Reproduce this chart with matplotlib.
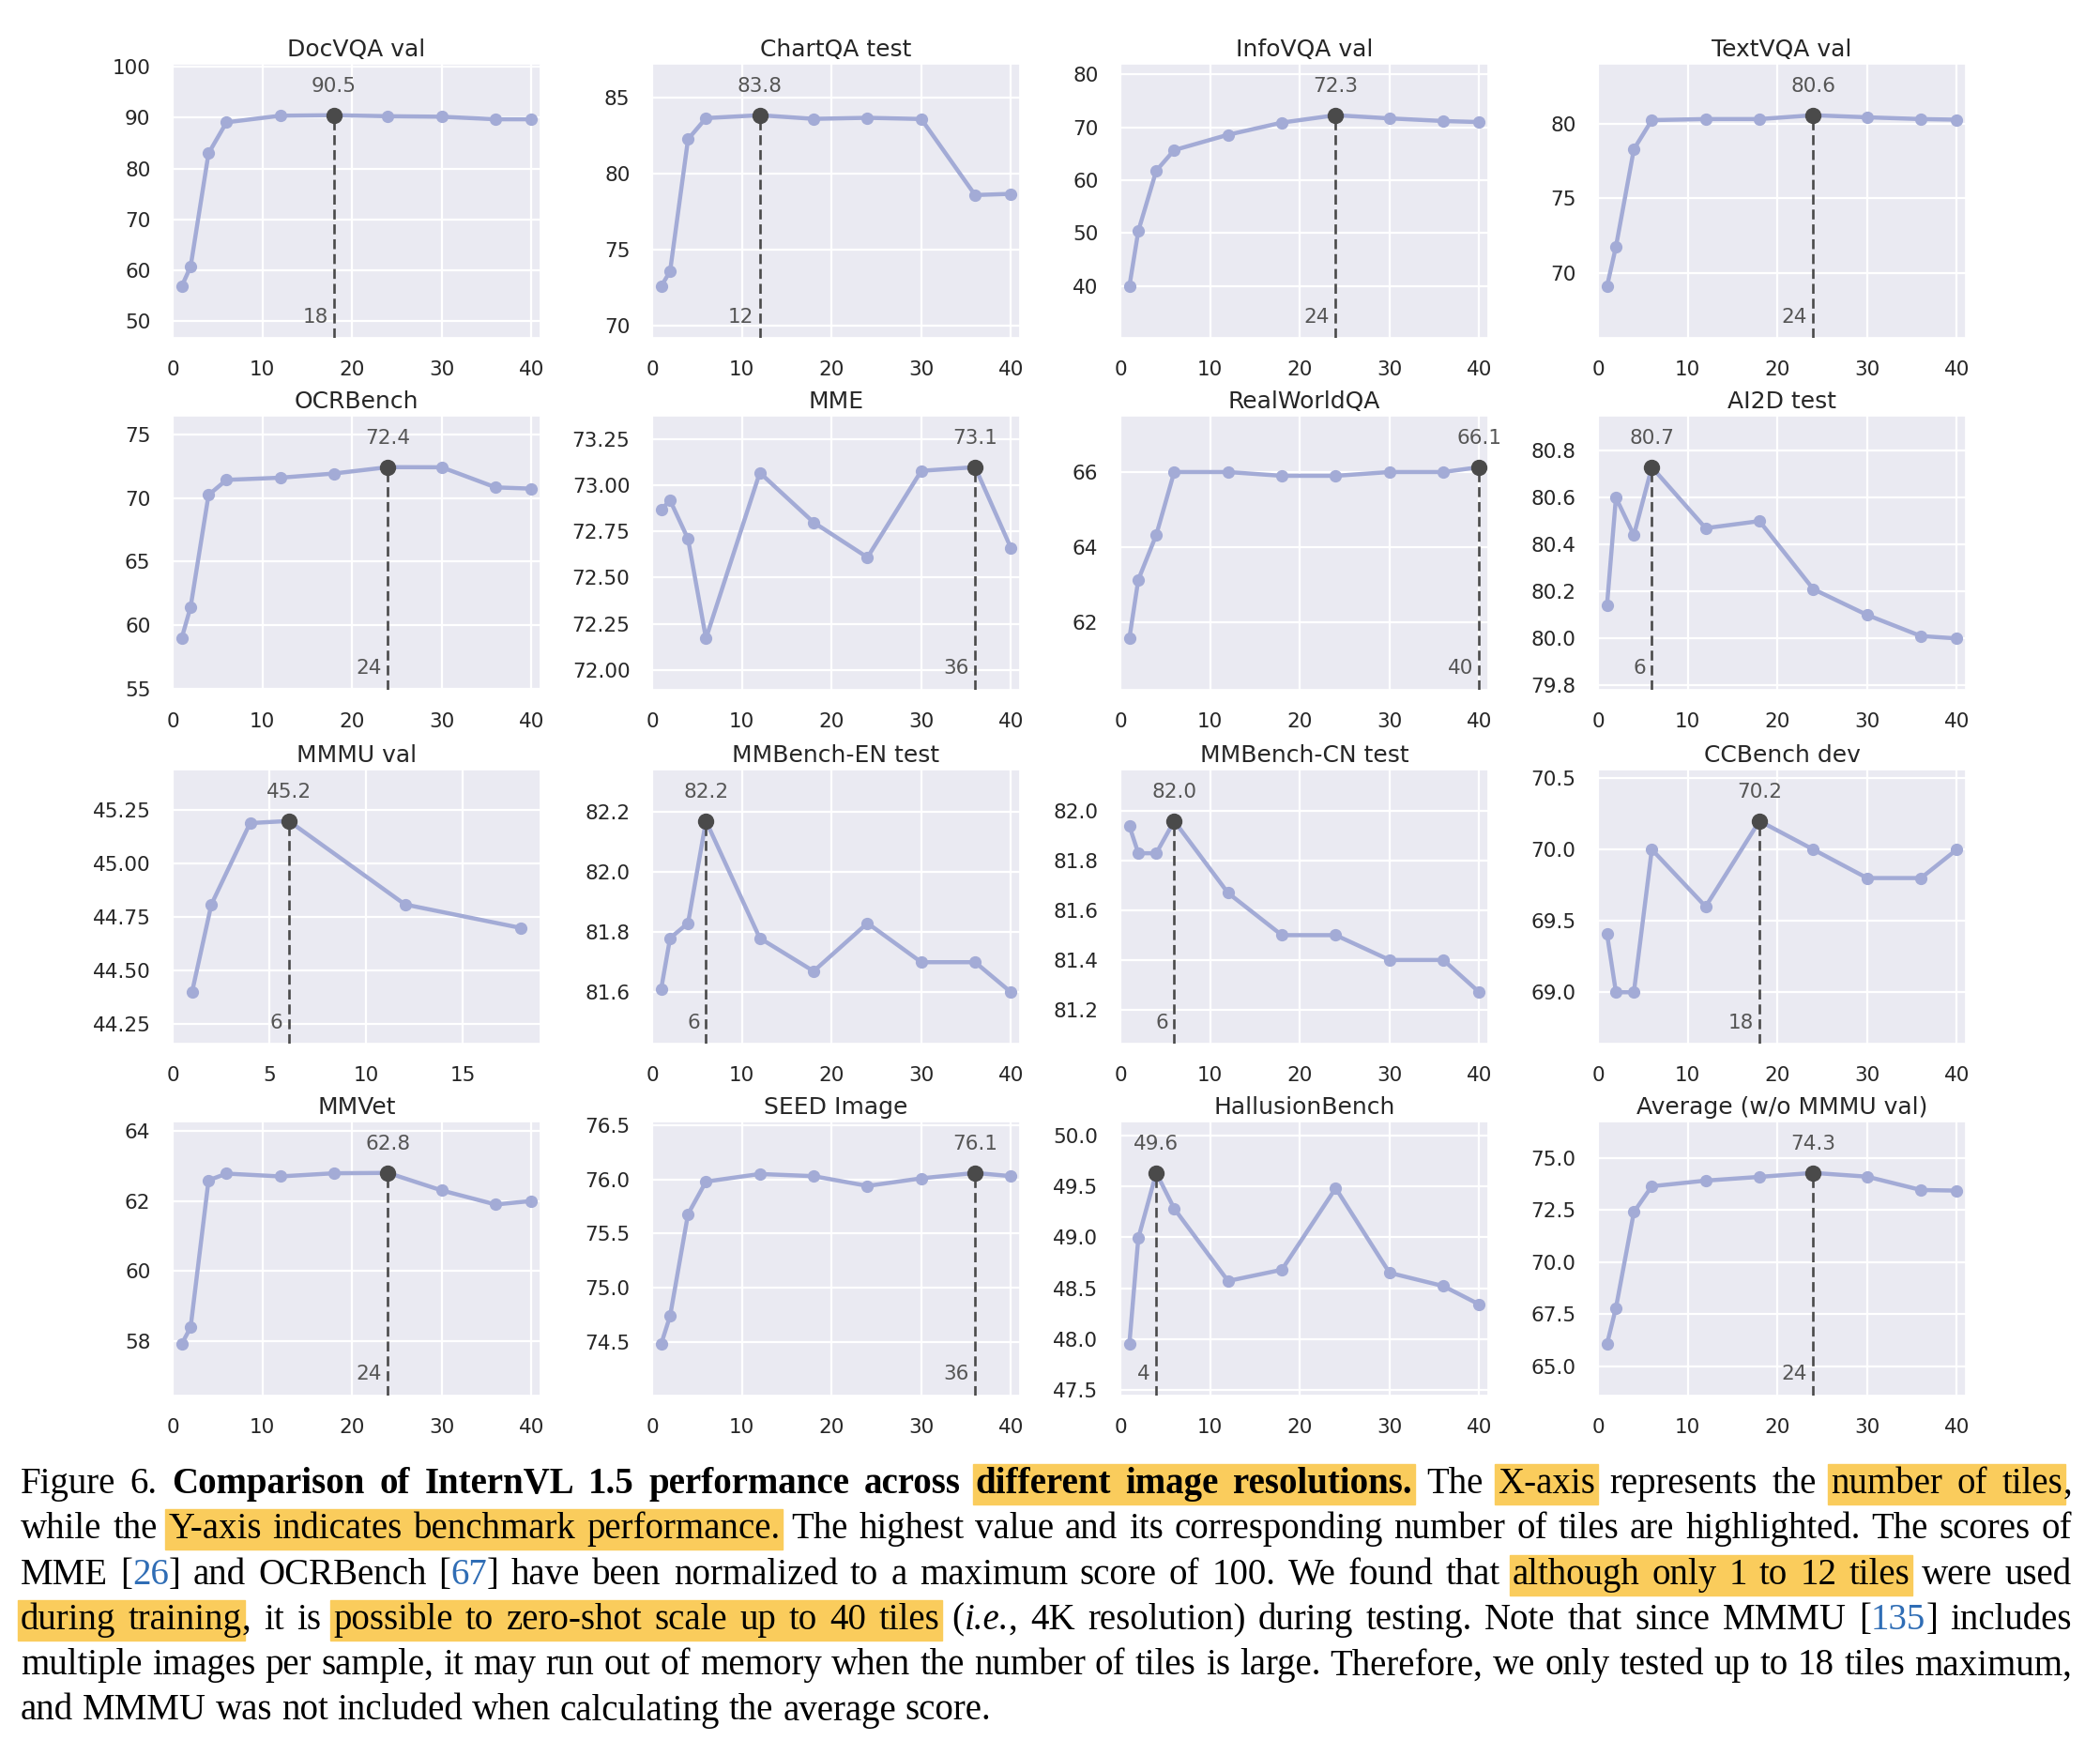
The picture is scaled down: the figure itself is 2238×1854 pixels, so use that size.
import matplotlib
matplotlib.use("Agg")
import matplotlib.pyplot as plt
import seaborn as sns
from matplotlib.patches import Rectangle

# number of tiles on the x axis
tiles = [1, 2, 4, 6, 12, 18, 24, 30, 36, 40]
mmmu_tiles = [1, 2, 4, 6, 12, 18]

docvqa = [56.8, 60.7, 83.0, 89.1, 90.4, 90.5, 90.3, 90.2, 89.7, 89.7]
chartqa = [72.6, 73.6, 82.26, 83.65, 83.84, 83.6, 83.67, 83.59, 78.6, 78.68]
infovqa = [39.9, 50.4, 61.8, 65.7, 68.6, 70.9, 72.3, 71.7, 71.2, 71.0]
textvqa = [69.1, 71.76, 78.3, 80.25, 80.32, 80.32, 80.58, 80.44, 80.32, 80.28]
ocrbench = [58.97, 61.44, 70.24, 71.43, 71.6, 71.93, 72.43, 72.42, 70.84, 70.74]
mme = [72.868, 72.92, 72.71, 72.17, 73.07, 72.80, 72.61, 73.08, 73.10, 72.66]
realworldqa = [61.58, 63.14, 64.33, 66.0, 66.0, 65.9, 65.9, 66.0, 66.0, 66.13]
ai2d = [80.14, 80.60, 80.44, 80.73, 80.47, 80.50, 80.21, 80.10, 80.01, 80.00]
mmmu = [44.40, 44.81, 45.19, 45.20, 44.81, 44.70]
mmbench_en = [81.61, 81.78, 81.83, 82.17, 81.78, 81.67, 81.83, 81.70, 81.70, 81.60]
mmbench_cn = [81.94, 81.83, 81.83, 81.96, 81.67, 81.50, 81.50, 81.40, 81.40, 81.27]
ccbench = [69.41, 69.0, 69.0, 70.0, 69.6, 70.2, 70.0, 69.8, 69.8, 70.0]
mmvet = [57.92, 58.4, 62.59, 62.78, 62.7, 62.79, 62.8, 62.3, 61.9, 62.0]
seed = [74.48, 74.74, 75.68, 75.98, 76.05, 76.03, 75.94, 76.01, 76.06, 76.03]
hallusion = [47.95, 48.99, 49.63, 49.28, 48.57, 48.68, 49.48, 48.65, 48.52, 48.34]
average = [66.06, 67.8, 72.4, 73.64, 73.91, 74.09, 74.28, 74.1, 73.46, 73.43]

titles = ["DocVQA val", "ChartQA test", "InfoVQA val", "TextVQA val",
          "OCRBench", "MME", "RealWorldQA", "AI2D test",
          "MMMU val", "MMBench-EN test", "MMBench-CN test", "CCBench dev",
          "MMVet", "SEED Image", "HallusionBench", "Average (w/o MMMU val)"]
series = [docvqa, chartqa, infovqa, textvqa,
          ocrbench, mme, realworldqa, ai2d,
          mmmu, mmbench_en, mmbench_cn, ccbench,
          mmvet, seed, hallusion, average]

caption = [
    [("Figure 6.  ", "n"), ("Comparison of InternVL 1.5 performance across ", "b"),
     ("different image resolutions.", "bh"), ("  The ", "n"), ("X-axis", "h"),
     (" represents the ", "n"), ("number of tiles", "h"), (",", "n")],
    [("while the ", "n"), ("Y-axis indicates benchmark performance.", "h"),
     (" The highest value and its corresponding number of tiles are highlighted. The scores of", "n")],
    [("MME [", "n"), ("26", "c"), ("] and OCRBench [", "n"), ("67", "c"),
     ("] have been normalized to a maximum score of 100. We found that ", "n"),
     ("although only 1 to 12 tiles", "h"), (" were used", "n")],
    [("during training", "h"), (", it is ", "n"), ("possible to zero-shot scale up to 40 tiles", "h"),
     (" (", "n"), ("i.e.", "i"), (", 4K resolution) during testing. Note that since MMMU [", "n"),
     ("135", "c"), ("] includes", "n")],
    [("multiple images per sample, it may run out of memory when the number of tiles is large. "
      "Therefore, we only tested up to 18 tiles maximum,", "n")],
    [("and MMMU was not included when calculating the average score.", "n")],
]

sns.set_theme(style="darkgrid")
plt.rcParams["font.family"] = ["DejaVu Sans"]
plt.rcParams.update({
    "xtick.labelsize": 15.5, "ytick.labelsize": 15.5, "axes.titlesize": 18,
    "xtick.major.pad": 11, "ytick.major.pad": 11, "grid.linewidth": 1.6,
})

W, H = 2238, 1854
fig = plt.figure(figsize=(W / 100, H / 100), dpi=100)

lefts = [184, 695, 1194, 1703]
tops = [68, 443, 820, 1195]
aw, ah = 392, 292
line_color = "#A3ABD6"
dark = "#4A4A4A"

for i, (name, ys) in enumerate(zip(titles, series)):
    r, c = divmod(i, 4)
    xs = mmmu_tiles if name == "MMMU val" else tiles
    ax = fig.add_axes([lefts[c] / W, 1 - (tops[r] + ah) / H, aw / W, ah / H])
    ax.plot(xs, ys, color=line_color, lw=3.2, marker="o", ms=8.5, zorder=3)
    lo, hi = min(ys), max(ys)
    pad = 0.3 * (hi - lo)
    ax.set_ylim(lo - pad, hi + pad)
    ax.set_xlim(0, max(xs) + 1)
    k = ys.index(hi)
    bx, by = xs[k], ys[k]
    ax.plot([bx, bx], [lo - pad, by], color=dark, lw=1.9, ls=(0, (4, 2)), zorder=4)
    ax.plot([bx], [by], "o", color=dark, ms=11.5, zorder=5)
    ax.annotate(f"{by:.1f}", (bx, by), xytext=(0, 15), textcoords="offset points",
                ha="center", va="bottom", fontsize=15.5, color="#555555")
    ax.annotate(str(bx), (bx, 0), xycoords=("data", "axes fraction"), xytext=(-4.5, 9),
                textcoords="offset points", ha="right", va="bottom", fontsize=15.5, color="#555555")
    ax.set_title(name, color=".15")


# caption, justified by hand
def split_words(runs):
    words = [[]]
    for text, st in runs:
        pieces = text.split(" ")
        for j, p in enumerate(pieces):
            if j > 0 and words[-1]:
                words.append([])
            if p:
                words[-1].append((p, st))
    return [w for w in words if w]


def props(st):
    return dict(family=["Liberation Serif", "DejaVu Serif"], fontsize=28,
                weight="bold" if "b" in st else "normal",
                style="italic" if "i" in st else "normal",
                color="#2F6DB5" if "c" in st else "black")


renderer = fig.canvas.get_renderer()


def width(s, st):
    t = fig.text(0, 0, s, **props(st))
    w = t.get_window_extent(renderer).width
    t.remove()
    return w


space = width("a a", "n") - width("aa", "n")
x_left, x_right = 22, 2208
base0, step = 1591, 48.3

for li, runs in enumerate(caption):
    words = split_words(runs)
    widths = [[width(p, st) for p, st in w] for w in words]
    total = sum(sum(ws) for ws in widths)
    if li < len(caption) - 1:
        gap = (x_right - x_left - total) / (len(words) - 1)
    else:
        gap = space
    base = base0 + li * step
    x = x_left
    run_start = None
    run_end = None
    for w, ws in zip(words, widths):
        for (p, st), pw in zip(w, ws):
            if "h" in st:
                if run_start is None:
                    run_start = x - 3
                run_end = x + pw + 3
            elif run_start is not None:
                fig.add_artist(Rectangle((run_start / W, 1 - (base + 12) / H), (run_end - run_start) / W,
                                         43 / H, transform=fig.transFigure, color="#FACC5C", zorder=0.5))
                run_start = None
            fig.text(x / W, 1 - base / H, p, va="baseline", ha="left", zorder=2, **props(st))
            x += pw
        x += gap
    if run_start is not None:
        fig.add_artist(Rectangle((run_start / W, 1 - (base + 12) / H), (run_end - run_start) / W,
                                 43 / H, transform=fig.transFigure, color="#FACC5C", zorder=0.5))

fig.savefig("out.png", dpi=100)
